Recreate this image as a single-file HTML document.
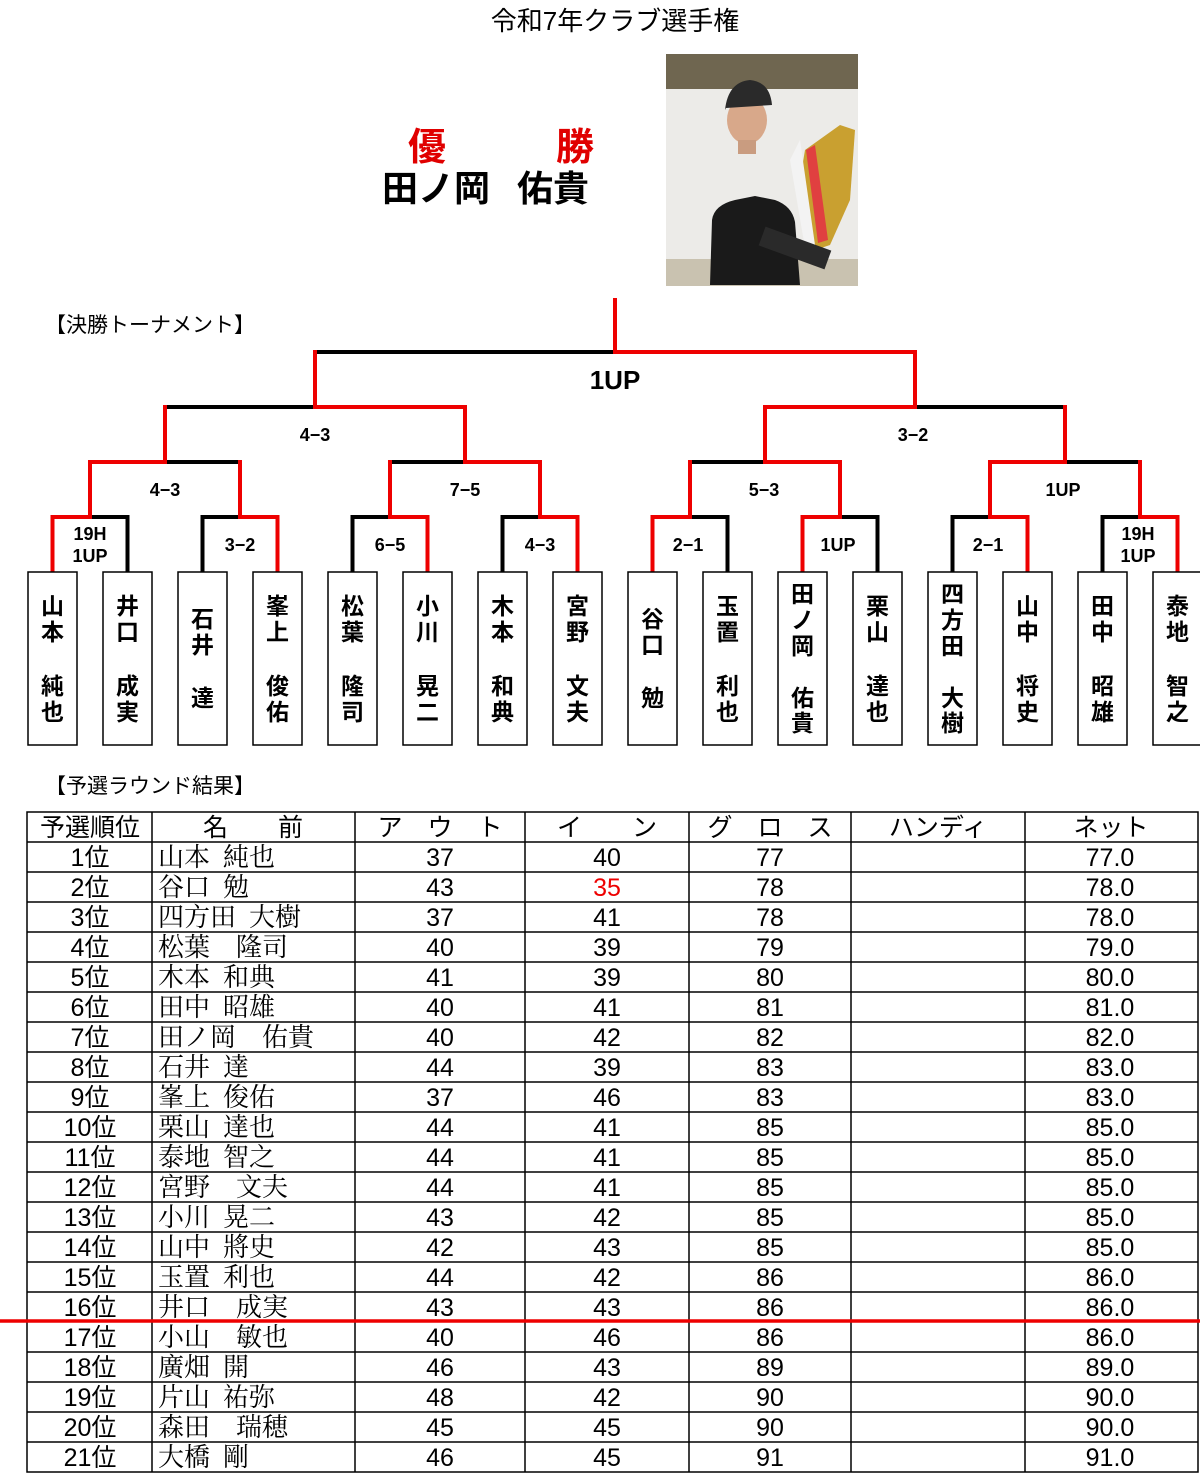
<!DOCTYPE html>
<html><head><meta charset="utf-8"><style>
html,body{margin:0;padding:0;background:#fff;}
svg{display:block;}
.g{font-family:"Liberation Sans","Noto Sans CJK JP",sans-serif;}
.m{font-family:"Liberation Serif","Noto Serif CJK SC",serif;}
.n{font-family:"Liberation Sans Narrow","Liberation Sans","Noto Sans CJK JP",sans-serif;}
</style></head><body>
<svg width="1200" height="1474" viewBox="0 0 1200 1474" xmlns="http://www.w3.org/2000/svg">
<rect width="1200" height="1474" fill="#fff"/>
<text class="g" x="615" y="30" font-size="26" text-anchor="middle" fill="#000">令和7年クラブ選手権</text>
<text class="g" x="408" y="160" font-size="38" font-weight="bold" fill="#e00000">優</text>
<text class="g" x="556" y="160" font-size="38" font-weight="bold" fill="#e00000">勝</text>
<text class="g" x="382" y="201" font-size="36" font-weight="bold" fill="#000">田ノ岡</text>
<text class="g" x="517" y="201" font-size="36" font-weight="bold" fill="#000">佑貴</text>
<!-- photo -->
<g>
<rect x="666" y="54" width="192" height="232" fill="#8d8468"/>
<rect x="666" y="54" width="192" height="35" fill="#6f6650"/>
<rect x="666" y="89" width="192" height="170" fill="#ecebe8"/>
<rect x="666" y="259" width="192" height="27" fill="#c9c2b0"/>
<path d="M710 285 L712 220 Q714 205 735 200 L755 196 L775 200 Q792 206 795 222 L800 285 Z" fill="#1a1a1a"/>
<ellipse cx="747" cy="120" rx="20" ry="24" fill="#d8a88a"/>
<path d="M725 110 Q728 82 750 80 Q770 82 772 105 L726 108 Z" fill="#2a2a2a"/>
<rect x="738" y="140" width="18" height="14" fill="#c99c80"/>
<path d="M805 150 L840 125 L855 130 L850 200 L830 245 L815 250 L800 180 Z" fill="#c9a030"/>
<path d="M790 160 L800 140 L815 245 L805 248 Z" fill="#f3f3f3"/>
<path d="M806 150 L815 145 L828 240 L818 243 Z" fill="#e04040"/>
<rect x="760" y="238" width="70" height="20" fill="#2a2a2a" transform="rotate(20 795 248)"/>
</g>
<text class="g" x="45" y="332" font-size="21" fill="#000">【決勝トーナメント】</text>
<!-- bracket -->
<g fill="none" stroke-width="4" stroke-linecap="square">
<g stroke="#000">
<path d="M127.5 572V517H90 M202.5 572V517H240 M352.5 572V517H390 M502.5 572V517H540 M727.5 572V517H690 M877.5 572V517H840 M952.5 572V517H990 M1102.5 572V517H1140"/>
<path d="M165 462H240 M390 462H465 M690 462H765 M1065 462H1140"/>
<path d="M165 407H315 M915 407H1065"/>
<path d="M315 352H615"/>
</g>
<g stroke="#ee0000">
<path d="M52.5 572V517H90 M277.5 572V517H240 M427.5 572V517H390 M577.5 572V517H540 M652.5 572V517H690 M802.5 572V517H840 M1027.5 572V517H990 M1177.5 572V517H1140"/>
<path d="M90 517V462H165 M240 517V462 M390 517V462 M540 517V462H465 M690 517V462 M840 517V462H765 M990 517V462H1065 M1140 517V462"/>
<path d="M165 462V407 M465 462V407H315 M765 462V407H915 M1065 462V407"/>
<path d="M315 407V352 M915 407V352H615 M615 352V300"/>
</g>
</g>
<g class="g" font-weight="bold" fill="#000" text-anchor="middle">
<text x="615" y="389" font-size="26">1UP</text>
<text x="315" y="441" font-size="18">4−3</text>
<text x="913" y="441" font-size="18">3−2</text>
<text x="165" y="496" font-size="18">4−3</text>
<text x="465" y="496" font-size="18">7−5</text>
<text x="764" y="496" font-size="18">5−3</text>
<text x="1063" y="496" font-size="18">1UP</text>
<text x="90" y="540" font-size="18">19H</text>
<text x="90" y="562" font-size="18">1UP</text>
<text x="240" y="551" font-size="18">3−2</text>
<text x="390" y="551" font-size="18">6−5</text>
<text x="540" y="551" font-size="18">4−3</text>
<text x="688" y="551" font-size="18">2−1</text>
<text x="838" y="551" font-size="18">1UP</text>
<text x="988" y="551" font-size="18">2−1</text>
<text x="1138" y="540" font-size="18">19H</text>
<text x="1138" y="562" font-size="18">1UP</text>
</g>
<!-- boxes -->
<g fill="#fff" stroke="#000" stroke-width="1.5">
<rect x="28" y="572" width="49" height="173"/><rect x="103" y="572" width="49" height="173"/>
<rect x="178" y="572" width="49" height="173"/><rect x="253" y="572" width="49" height="173"/>
<rect x="328" y="572" width="49" height="173"/><rect x="403" y="572" width="49" height="173"/>
<rect x="478" y="572" width="49" height="173"/><rect x="553" y="572" width="49" height="173"/>
<rect x="628" y="572" width="49" height="173"/><rect x="703" y="572" width="49" height="173"/>
<rect x="778" y="572" width="49" height="173"/><rect x="853" y="572" width="49" height="173"/>
<rect x="928" y="572" width="49" height="173"/><rect x="1003" y="572" width="49" height="173"/>
<rect x="1078" y="572" width="49" height="173"/><rect x="1153" y="572" width="49" height="173"/>
</g>
<g class="g" font-size="23" font-weight="bold" fill="#000" text-anchor="middle">
<text x="52.5" y="614">山</text><text x="52.5" y="640">本</text><text x="52.5" y="694">純</text><text x="52.5" y="720">也</text>
<text x="127.5" y="614">井</text><text x="127.5" y="640">口</text><text x="127.5" y="694">成</text><text x="127.5" y="720">実</text>
<text x="202.5" y="627">石</text><text x="202.5" y="653">井</text><text x="202.5" y="706">達</text>
<text x="277.5" y="614">峯</text><text x="277.5" y="640">上</text><text x="277.5" y="694">俊</text><text x="277.5" y="720">佑</text>
<text x="352.5" y="614">松</text><text x="352.5" y="640">葉</text><text x="352.5" y="694">隆</text><text x="352.5" y="720">司</text>
<text x="427.5" y="614">小</text><text x="427.5" y="640">川</text><text x="427.5" y="694">晃</text><text x="427.5" y="720">二</text>
<text x="502.5" y="614">木</text><text x="502.5" y="640">本</text><text x="502.5" y="694">和</text><text x="502.5" y="720">典</text>
<text x="577.5" y="614">宮</text><text x="577.5" y="640">野</text><text x="577.5" y="694">文</text><text x="577.5" y="720">夫</text>
<text x="652.5" y="627">谷</text><text x="652.5" y="653">口</text><text x="652.5" y="706">勉</text>
<text x="727.5" y="614">玉</text><text x="727.5" y="640">置</text><text x="727.5" y="694">利</text><text x="727.5" y="720">也</text>
<text x="802.5" y="602">田</text><text x="802.5" y="628">ノ</text><text x="802.5" y="654">岡</text><text x="802.5" y="706">佑</text><text x="802.5" y="731">貴</text>
<text x="877.5" y="614">栗</text><text x="877.5" y="640">山</text><text x="877.5" y="694">達</text><text x="877.5" y="720">也</text>
<text x="952.5" y="602">四</text><text x="952.5" y="628">方</text><text x="952.5" y="654">田</text><text x="952.5" y="706">大</text><text x="952.5" y="731">樹</text>
<text x="1027.5" y="614">山</text><text x="1027.5" y="640">中</text><text x="1027.5" y="694">将</text><text x="1027.5" y="720">史</text>
<text x="1102.5" y="614">田</text><text x="1102.5" y="640">中</text><text x="1102.5" y="694">昭</text><text x="1102.5" y="720">雄</text>
<text x="1177.5" y="614">泰</text><text x="1177.5" y="640">地</text><text x="1177.5" y="694">智</text><text x="1177.5" y="720">之</text>
</g>
<text class="g" x="45" y="793" font-size="21" fill="#000">【予選ラウンド結果】</text>
<!-- table -->
<g stroke="#000" stroke-width="1.5" fill="none">
<rect x="27" y="812" width="1171" height="660"/>
<path d="M152 812V1472 M355 812V1472 M525 812V1472 M689 812V1472 M851 812V1472 M1025 812V1472"/>
<path d="M27 842H1198 M27 872H1198 M27 902H1198 M27 932H1198 M27 962H1198 M27 992H1198 M27 1022H1198 M27 1052H1198 M27 1082H1198 M27 1112H1198 M27 1142H1198 M27 1172H1198 M27 1202H1198 M27 1232H1198 M27 1262H1198 M27 1292H1198 M27 1352H1198 M27 1382H1198 M27 1412H1198 M27 1442H1198"/>
</g>
<path d="M0 1321H1200" stroke="#ee0000" stroke-width="3.5"/>
<g class="g" font-size="25" fill="#000" text-anchor="middle">
<text x="90" y="836">予選順位</text>
<text x="253" y="836">名　　前</text>
<text x="440" y="836">ア　ウ　ト</text>
<text x="607" y="836">イ　　ン</text>
<text x="770" y="836">グ　ロ　ス</text>
<text x="938" y="836">ハンディ</text>
<text x="1111" y="836">ネット</text>
</g>
<g class="n" font-size="25" fill="#000" text-anchor="middle">
<text x="90" y="866">1位</text><text x="90" y="896">2位</text><text x="90" y="926">3位</text><text x="90" y="956">4位</text><text x="90" y="986">5位</text><text x="90" y="1016">6位</text><text x="90" y="1046">7位</text><text x="90" y="1076">8位</text><text x="90" y="1106">9位</text><text x="90" y="1136">10位</text><text x="90" y="1166">11位</text><text x="90" y="1196">12位</text><text x="90" y="1226">13位</text><text x="90" y="1256">14位</text><text x="90" y="1286">15位</text><text x="90" y="1316">16位</text><text x="90" y="1346">17位</text><text x="90" y="1376">18位</text><text x="90" y="1406">19位</text><text x="90" y="1436">20位</text><text x="90" y="1466">21位</text>
<text x="440" y="866">37</text><text x="440" y="896">43</text><text x="440" y="926">37</text><text x="440" y="956">40</text><text x="440" y="986">41</text><text x="440" y="1016">40</text><text x="440" y="1046">40</text><text x="440" y="1076">44</text><text x="440" y="1106">37</text><text x="440" y="1136">44</text><text x="440" y="1166">44</text><text x="440" y="1196">44</text><text x="440" y="1226">43</text><text x="440" y="1256">42</text><text x="440" y="1286">44</text><text x="440" y="1316">43</text><text x="440" y="1346">40</text><text x="440" y="1376">46</text><text x="440" y="1406">48</text><text x="440" y="1436">45</text><text x="440" y="1466">46</text>
<text x="607" y="866">40</text><text x="607" y="896" fill="#ee0000">35</text><text x="607" y="926">41</text><text x="607" y="956">39</text><text x="607" y="986">39</text><text x="607" y="1016">41</text><text x="607" y="1046">42</text><text x="607" y="1076">39</text><text x="607" y="1106">46</text><text x="607" y="1136">41</text><text x="607" y="1166">41</text><text x="607" y="1196">41</text><text x="607" y="1226">42</text><text x="607" y="1256">43</text><text x="607" y="1286">42</text><text x="607" y="1316">43</text><text x="607" y="1346">46</text><text x="607" y="1376">43</text><text x="607" y="1406">42</text><text x="607" y="1436">45</text><text x="607" y="1466">45</text>
<text x="770" y="866">77</text><text x="770" y="896">78</text><text x="770" y="926">78</text><text x="770" y="956">79</text><text x="770" y="986">80</text><text x="770" y="1016">81</text><text x="770" y="1046">82</text><text x="770" y="1076">83</text><text x="770" y="1106">83</text><text x="770" y="1136">85</text><text x="770" y="1166">85</text><text x="770" y="1196">85</text><text x="770" y="1226">85</text><text x="770" y="1256">85</text><text x="770" y="1286">86</text><text x="770" y="1316">86</text><text x="770" y="1346">86</text><text x="770" y="1376">89</text><text x="770" y="1406">90</text><text x="770" y="1436">90</text><text x="770" y="1466">91</text>
<text x="1110" y="866">77.0</text><text x="1110" y="896">78.0</text><text x="1110" y="926">78.0</text><text x="1110" y="956">79.0</text><text x="1110" y="986">80.0</text><text x="1110" y="1016">81.0</text><text x="1110" y="1046">82.0</text><text x="1110" y="1076">83.0</text><text x="1110" y="1106">83.0</text><text x="1110" y="1136">85.0</text><text x="1110" y="1166">85.0</text><text x="1110" y="1196">85.0</text><text x="1110" y="1226">85.0</text><text x="1110" y="1256">85.0</text><text x="1110" y="1286">86.0</text><text x="1110" y="1316">86.0</text><text x="1110" y="1346">86.0</text><text x="1110" y="1376">89.0</text><text x="1110" y="1406">90.0</text><text x="1110" y="1436">90.0</text><text x="1110" y="1466">91.0</text>
</g>
<g class="m" font-size="26" fill="#000">
<text x="158" y="866" xml:space="preserve">山本  純也</text>
<text x="158" y="896" xml:space="preserve">谷口  勉</text>
<text x="158" y="926" xml:space="preserve">四方田  大樹</text>
<text x="158" y="956">松葉　隆司</text>
<text x="158" y="986" xml:space="preserve">木本  和典</text>
<text x="158" y="1016" xml:space="preserve">田中  昭雄</text>
<text x="158" y="1046">田ノ岡　佑貴</text>
<text x="158" y="1076" xml:space="preserve">石井  達</text>
<text x="158" y="1106" xml:space="preserve">峯上  俊佑</text>
<text x="158" y="1136" xml:space="preserve">栗山  達也</text>
<text x="158" y="1166" xml:space="preserve">泰地  智之</text>
<text x="158" y="1196">宮野　文夫</text>
<text x="158" y="1226" xml:space="preserve">小川  晃二</text>
<text x="158" y="1256" xml:space="preserve">山中  將史</text>
<text x="158" y="1286" xml:space="preserve">玉置  利也</text>
<text x="158" y="1316">井口　成実</text>
<text x="158" y="1346">小山　敏也</text>
<text x="158" y="1376" xml:space="preserve">廣畑  開</text>
<text x="158" y="1406" xml:space="preserve">片山  祐弥</text>
<text x="158" y="1436">森田　瑞穂</text>
<text x="158" y="1466" xml:space="preserve">大橋  剛</text>
</g>
</svg>
</body></html>
